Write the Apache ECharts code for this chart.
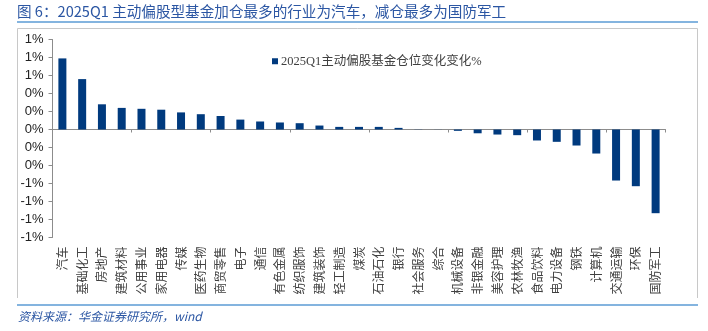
<!DOCTYPE html>
<html>
<head>
<meta charset="utf-8">
<script src="https://cdn.jsdelivr.net/npm/echarts@6/dist/echarts.min.js"></script>
<style>
html,body{margin:0;padding:0;background:#fff;}
#c{width:708px;height:331px;}
</style>
</head>
<body>
<div id="c"></div>
<script>
const categories = ['汽车','基础化工','房地产','建筑材料','公用事业','家用电器','传媒','医药生物','商贸零售','电子','通信','有色金属','纺织服饰','建筑装饰','轻工制造','煤炭','石油石化','银行','社会服务','综合','机械设备','非银金融','美容护理','农林牧渔','食品饮料','电力设备','钢铁','计算机','交通运输','环保','国防军工'];
const changePct = [0.79,0.56,0.28,0.24,0.23,0.22,0.19,0.17,0.15,0.11,0.089,0.078,0.07,0.044,0.029,0.029,0.029,0.018,0.002,0.001,-0.015,-0.042,-0.056,-0.063,-0.122,-0.137,-0.178,-0.267,-0.567,-0.63,-0.93];
const seriesName = '2025Q1主动偏股基金仓位变化变化%';
const titleText = '图 6：2025Q1 主动偏股型基金加仓最多的行业为汽车，减仓最多为国防军工';
const sourceText = '资料来源：华金证券研究所，wind';

const chart = echarts.init(document.getElementById('c'), null, {renderer:'canvas'});
const axisGrey = '#8c8c8c';
chart.setOption({
  animation:false,
  backgroundColor:'#fff',
  grid:{left:52.5,right:42.5,top:39.5,bottom:93.5,containLabel:false},
  legend:{
    show:true, left:267, top:50, itemWidth:6, itemHeight:6, itemGap:4,
    icon:'rect',
    textStyle:{fontFamily:'"Liberation Serif","Noto Sans CJK SC",serif',fontSize:12.5,color:'#404040',padding:[0,0,0,-2]},
    data:[seriesName]
  },
  xAxis:[
    {type:'category',data:categories,position:'bottom',
     axisLine:{show:true,onZero:true,lineStyle:{color:axisGrey,width:1}},
     axisTick:{show:true,length:3,lineStyle:{color:axisGrey}},
     axisLabel:{show:false},splitLine:{show:false}},
    {type:'category',data:categories,position:'bottom',
     axisLine:{show:false,onZero:false},axisTick:{show:false},
     axisLabel:{show:true,rotate:90,interval:0,margin:9,fontSize:12,color:'#404040',
       fontFamily:'"Noto Sans CJK SC",sans-serif'},
     splitLine:{show:false}}
  ],
  yAxis:{type:'value',min:-1.2,max:1.0,interval:0.2,
    axisLine:{show:true,lineStyle:{color:axisGrey}},
    axisTick:{show:true,length:4,lineStyle:{color:axisGrey}},
    splitLine:{show:false},
    axisLabel:{margin:9,fontSize:13,color:'#222',fontFamily:'"Liberation Sans",Arial,sans-serif',
      formatter:v=>Math.round(v)+'%'}
  },
  series:[{name:seriesName,type:'bar',xAxisIndex:0,data:changePct,barWidth:8,
    itemStyle:{color:'#003a7e'}}],
  graphic:[
    {type:'text',left:17,top:4,style:{text:titleText,fill:'#2b56a3',fontSize:14.6,
      fontFamily:'"Noto Sans CJK SC",sans-serif'}},
    {type:'line',shape:{x1:17,y1:22,x2:698,y2:22},style:{stroke:'#5b9bd5',lineWidth:1.5}},
    {type:'polyline',shape:{points:[[17.5,298],[17.5,28.5],[697.5,28.5],[697.5,298]]},style:{stroke:'#c8c8c8',lineWidth:1,fill:null}},
    {type:'line',shape:{x1:17,y1:305,x2:698,y2:305},style:{stroke:'#5b9bd5',lineWidth:1.5}},
    {type:'text',left:18,top:310,style:{text:sourceText,fill:'#2b56a3',fontSize:12,fontStyle:'italic',
      fontFamily:'"Noto Sans CJK SC",sans-serif'}}
  ]
});
</script>
</body>
</html>
